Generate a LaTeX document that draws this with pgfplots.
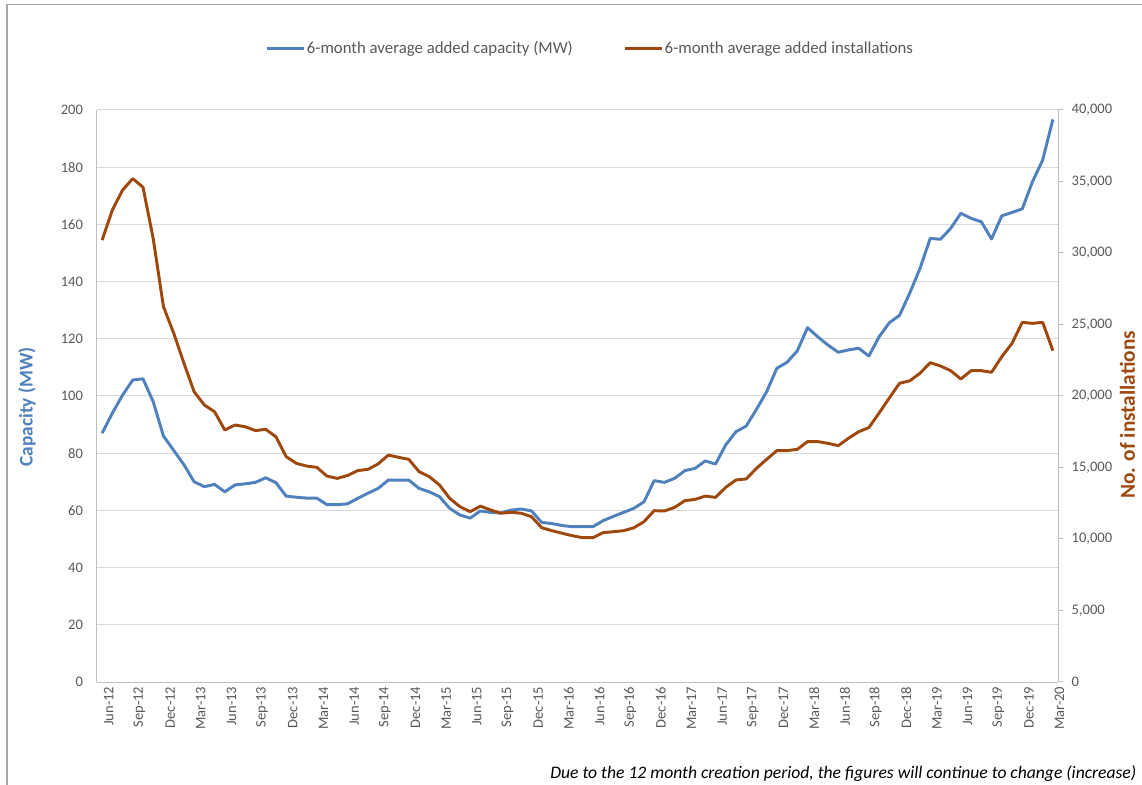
\documentclass[border=0pt]{standalone}
\usepackage{fontspec}
\setmainfont{Carlito}
\usepackage{pgfplots}
\usepackage{pgfplotstable}
\pgfplotsset{compat=1.18}
\definecolor{capblue}{HTML}{4F81BD}
\definecolor{instbrown}{HTML}{9E480E}
\definecolor{gridgray}{HTML}{D9D9D9}
\definecolor{axisgray}{HTML}{BFBFBF}
\definecolor{ticktext}{HTML}{595959}
\definecolor{framegray}{HTML}{A6A6A6}

\pgfplotstableread{
idx cap inst
0 87 30900
1 94 33000
2 100.3 34400
3 105.6 35200
4 106 34600
5 98 31000
6 86 26250
7 81 24400
8 76 22300
9 70 20300
10 68.3 19370
11 69.1 18900
12 66.5 17620
13 68.9 17970
14 69.3 17850
15 69.8 17580
16 71.4 17670
17 69.7 17150
18 65 15760
19 64.6 15290
20 64.3 15100
21 64.3 15010
22 62 14400
23 62 14240
24 62.3 14440
25 64.2 14780
26 66 14870
27 67.7 15250
28 70.6 15870
29 70.6 15710
30 70.6 15570
31 67.7 14710
32 66.5 14360
33 64.8 13780
34 60.7 12840
35 58.4 12260
36 57.3 11910
37 59.8 12300
38 59.3 12030
39 59.1 11800
40 60.1 11870
41 60.5 11800
42 59.8 11560
43 55.8 10790
44 55.4 10580
45 54.7 10400
46 54.3 10230
47 54.3 10090
48 54.3 10090
49 56.4 10440
50 57.9 10510
51 59.3 10580
52 60.7 10780
53 63 11210
54 70.4 11980
55 69.8 11960
56 71.2 12210
57 73.9 12680
58 74.7 12770
59 77.3 13000
60 76.2 12910
61 82.9 13610
62 87.5 14130
63 89.5 14200
64 95.3 14940
65 101.5 15570
66 109.7 16180
67 111.8 16180
68 115.8 16270
69 123.9 16810
70 120.7 16810
71 117.8 16690
72 115.3 16530
73 116.1 17040
74 116.7 17500
75 114 17790
76 120.7 18810
77 125.6 19860
78 128.2 20890
79 136 21060
80 144.6 21590
81 155.1 22330
82 154.8 22100
83 158.6 21770
84 163.9 21190
85 162.1 21770
86 160.9 21770
87 154.9 21660
88 163 22750
89 164.2 23680
90 165.4 25150
91 174.9 25080
92 182.5 25150
93 196.7 23170
}\datatable

\pgfplotsset{
  common/.style={
    scale only axis,
    width=720.75pt, height=429pt,
    at={(72.75pt,77.25pt)}, anchor=south west,
    xmin=-0.5, xmax=93.5,
    every tick label/.append style={font=\fontsize{10.9}{12}\selectfont, text=ticktext},
    /pgf/number format/assume math mode=true,
    axis line style={draw=axisgray, line width=0.75pt},
  }
}

\begin{document}
\begin{tikzpicture}
\clip (0,0) rectangle (856.5pt,588.75pt);
\fill[white] (0,0) rectangle (856.5pt,588.75pt);
\draw[framegray, line width=0.9pt] (5.25pt,-5pt) -- (5.25pt,585.4pt) -- (870pt,585.4pt);

\begin{axis}[common,
  ymin=0, ymax=200,
  ytick={0,20,...,200},
  xtick={0,3,...,93},
  xticklabels={Jun-12,Sep-12,Dec-12,Mar-13,Jun-13,Sep-13,Dec-13,Mar-14,Jun-14,Sep-14,Dec-14,Mar-15,Jun-15,Sep-15,Dec-15,Mar-16,Jun-16,Sep-16,Dec-16,Mar-17,Jun-17,Sep-17,Dec-17,Mar-18,Jun-18,Sep-18,Dec-18,Mar-19,Jun-19,Sep-19,Dec-19,Mar-20},
  x tick label style={rotate=90, anchor=east, yshift=-5pt},
  y tick label style={xshift=-7pt},
  axis x line*=bottom, axis y line*=left,
  major tick length=0pt,
  ymajorgrids, major grid style={draw=gridgray, line width=0.75pt},
  ylabel={\textbf{Capacity (MW)}},
  ylabel style={font=\fontsize{14.5}{16}\selectfont, text=capblue, at={(axis description cs:-0.0728,0.481)}, anchor=center},
]
\addplot[capblue, line width=2.2pt, line join=round] table[x=idx, y=cap] {\datatable};
\end{axis}

\begin{axis}[common,
  ymin=0, ymax=40000,
  ytick={0,5000,...,40000},
  scaled y ticks=false,
  /pgf/number format/1000 sep={,},
  y tick label style={xshift=3pt},
  axis y line*=right, axis x line=none,
  tick align=outside, major tick length=3.75pt,
  tick style={draw=axisgray, line width=0.75pt},
  ylabel={\textbf{No. of installations}},
  ylabel style={font=\fontsize{16}{18}\selectfont, text=instbrown, at={(axis description cs:1.0801,0.467)}, anchor=base, inner sep=0pt},
  legend columns=2,
  legend style={at={(axis description cs:0.513,1.108)}, anchor=center, draw=none, fill=none,
    font=\fontsize{12.6}{14}\selectfont, text=ticktext,
    /tikz/every even column/.append style={column sep=37pt},
    nodes={inner xsep=1pt}},
  legend image code/.code={\draw[#1] (0pt,0pt) -- (27.75pt,0pt);},
]
\addlegendimage{capblue, line width=2.2pt}
\addlegendentry{6-month average added capacity (MW)}
\addplot[instbrown, line width=2.2pt, line join=round] table[x=idx, y=inst] {\datatable};
\addlegendentry{6-month average added installations}
\end{axis}

\node[anchor=base west, inner sep=0pt, font=\fontsize{13.2}{15}\selectfont\itshape] at (412.5pt,5pt) {Due to the 12 month creation period, the figures will continue to change (increase)};
\end{tikzpicture}
\end{document}
